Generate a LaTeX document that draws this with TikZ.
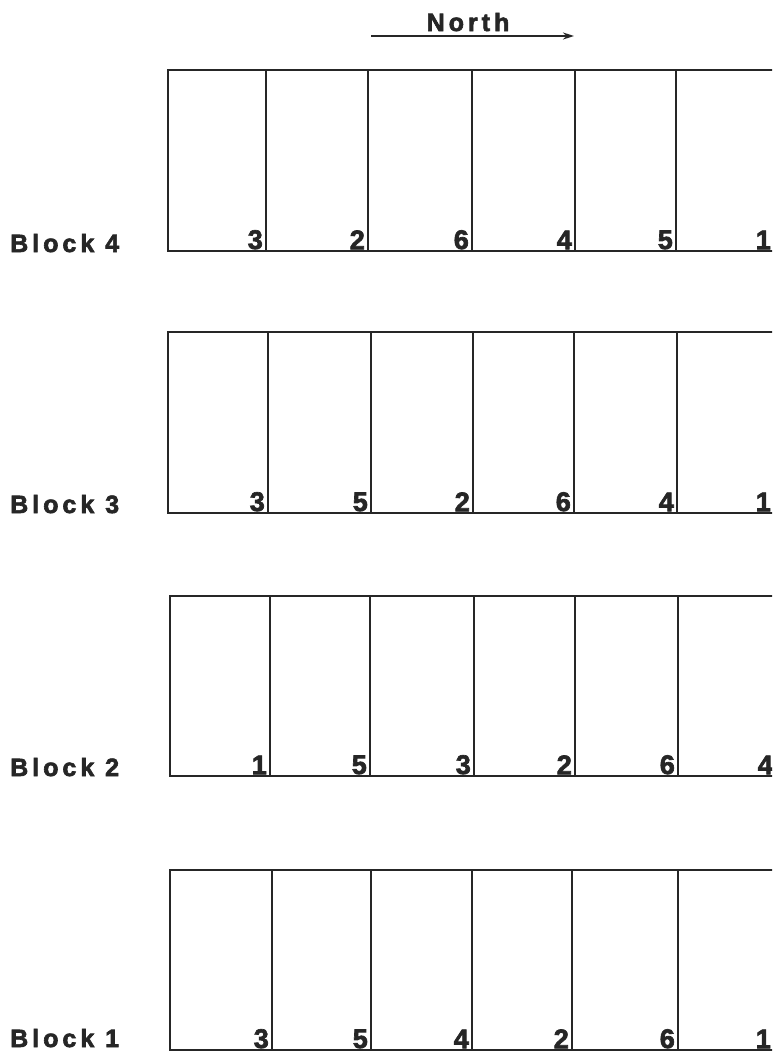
\documentclass[tikz,border=0pt]{standalone}
\usepackage{fontspec}
\setmainfont{Liberation Sans}
\newfontfamily\lblfont[LetterSpace=16, BoldFeatures={FakeBold=2.5}]{Liberation Sans}
\newfontfamily\numfont[BoldFeatures={FakeBold=2.5}]{Liberation Sans}
\usetikzlibrary{arrows.meta}
\tikzset{
  plotline/.style={line width=2.6pt, draw=black!85, line cap=rect},
  numlbl/.style={anchor=south east, inner sep=0pt, font=\numfont\fontsize{27}{27}\selectfont\bfseries, text=black!85},
  blocklbl/.style={anchor=base west, inner sep=0pt, font=\lblfont\fontsize{25}{25}\selectfont\bfseries, text=black!85},
}
\begin{document}
\begin{tikzpicture}[x=1pt,y=-1pt]
\useasboundingbox (0,0) rectangle (772,1055);
\clip (0,0) rectangle (772,1055);
\fill[white] (0,0) rectangle (772,1055);
% North arrow
\node[anchor=base, inner sep=0pt, font=\lblfont\fontsize{25}{25}\selectfont\bfseries, text=black!85] (north) at (468,31) {North};
\coordinate (na) at (371,36);
\coordinate (nb) at (574,36);
\draw[line width=2.4pt, draw=black!85, -{Stealth[length=11pt,width=7pt]}] (na) -- (nb);
% blocks
\foreach \name/\top/\bot/\lbly/\left/\la/\lb/\lc/\ld/\le/\lf/\na/\nb/\nc/\nd/\ne/\nf in {
  4/70/251/252/168/266/368/472/575/676/774/3/2/6/4/5/1,
  3/332/513/513/168/268/371/473/574/677/774/3/5/2/6/4/1,
  2/596/776/776/170/270/370/474/575/678/776/1/5/3/2/6/4,
  1/870/1050/1047/170/272/371/472/572/678/774/3/5/4/2/6/1}{
  \draw[plotline] (790,\top) -- (\left,\top) -- (\left,\bot) -- (790,\bot);
  \foreach \x in {\la,\lb,\lc,\ld,\le}{
    \draw[plotline] (\x,\top) -- (\x,\bot);
  }
  \node[numlbl] (n\name a) at (\la-3,\bot-1.5) {\na};
  \node[numlbl] (n\name b) at (\lb-3,\bot-1.5) {\nb};
  \node[numlbl] (n\name c) at (\lc-3,\bot-1.5) {\nc};
  \node[numlbl] (n\name d) at (\ld-3,\bot-1.5) {\nd};
  \node[numlbl] (n\name e) at (\le-3,\bot-1.5) {\ne};
  \node[numlbl] (n\name f) at (\lf-3,\bot-1.5) {\nf};
  \node[blocklbl] (b\name) at (10,\lbly) {Block \name};
}
\end{tikzpicture}
\end{document}
